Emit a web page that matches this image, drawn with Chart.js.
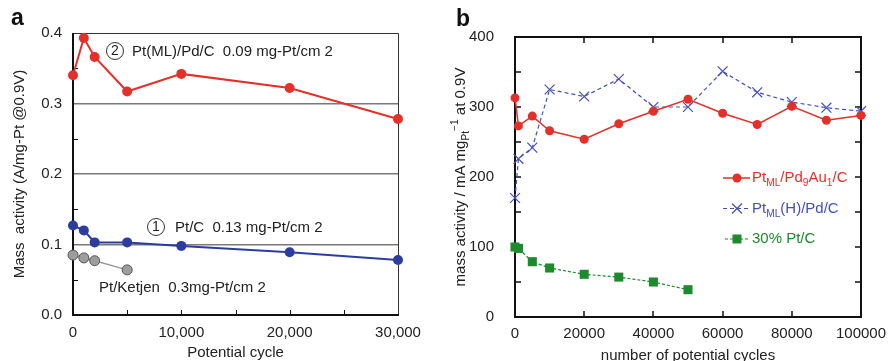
<!DOCTYPE html>
<html>
<head>
<meta charset="utf-8">
<script src="https://cdn.jsdelivr.net/npm/chart.js@4"></script>
<style>
  html, body { margin: 0; padding: 0; background: #fff; }
  #wrap { position: relative; width: 888px; height: 361px; }
  #panelA { position: absolute; left: 0; top: 0; }
  #panelB { position: absolute; left: 440px; top: 0; }
</style>
</head>
<body>
<div id="wrap">
  <canvas id="panelA" width="440" height="361"></canvas>
  <canvas id="panelB" width="448" height="361"></canvas>
</div>
<script>
// ---- data, panel a ----
const cyclesA = [0, 1000, 2000, 5000, 10000, 20000, 30000];
const ptMlPdC = [0.340, 0.393, 0.366, 0.317, 0.342, 0.322, 0.278];
const ptC = [0.127, 0.120, 0.103, 0.103, 0.098, 0.089, 0.078];
const cyclesKetjen = [0, 1000, 2000, 5000];
const ptKetjen = [0.085, 0.081, 0.077, 0.064];
const xTicksA = [0, 10000, 20000, 30000];
const yTicksA = [0.0, 0.1, 0.2, 0.3, 0.4];

// ---- data, panel b ----
const cyclesB = [0, 1000, 5000, 10000, 20000, 30000, 40000, 50000, 60000, 70000, 80000, 90000, 100000];
const ptMlPdAu = [313, 273, 287, 266, 254, 276, 294, 311, 291, 275, 301, 281, 288];
const ptMlHPd = [170, 226, 242, 325, 315, 340, 300, 300, 351, 321, 307, 299, 294];
const cyclesPtC = [0, 1000, 5000, 10000, 20000, 30000, 40000, 50000];
const ptC30 = [100, 98, 79, 70, 61, 57, 50, 39];
const xTicksB = [0, 20000, 40000, 60000, 80000, 100000];
const yTicksB = [0, 100, 200, 300, 400];

const FONT = '"Liberation Sans", Arial, sans-serif';
const TXT = '#222';

const pts = (xs, ys) => xs.map((x, i) => ({x: x, y: ys[i]}));

// texte avec indices / exposants
function richText(ctx, x, y, parts, size) {
    let cx = x;
    parts.forEach(p => {
        const s = p.sub || p.sup ? size * 0.68 : size;
        ctx.font = s + 'px ' + FONT;
        const dy = p.sub ? size * 0.35 : (p.sup ? -size * 0.42 : 0);
        ctx.fillText(p.t, cx, y + dy);
        cx += ctx.measureText(p.t).width;
    });
    return cx - x;
}
function richWidth(ctx, parts, size) {
    let w = 0;
    parts.forEach(p => {
        const s = p.sub || p.sup ? size * 0.68 : size;
        ctx.font = s + 'px ' + FONT;
        w += ctx.measureText(p.t).width;
    });
    return w;
}

// ===============================
// PANEL A
// ===============================
const framePluginA = {
    id: 'frameA',
    beforeDatasetsDraw(chart) {
        const {ctx, chartArea: ca, scales: {x, y}} = chart;
        ctx.save();
        ctx.strokeStyle = '#333';
        ctx.lineWidth = 1;
        ctx.beginPath();
        ctx.moveTo(ca.left, ca.top + 0.5); ctx.lineTo(ca.right + 0.5, ca.top + 0.5);
        ctx.lineTo(ca.right + 0.5, ca.bottom);
        ctx.stroke();
        ctx.strokeStyle = '#111';
        ctx.lineWidth = 2;
        ctx.beginPath();
        ctx.moveTo(ca.left, ca.top); ctx.lineTo(ca.left, ca.bottom); ctx.lineTo(ca.right + 1, ca.bottom);
        ctx.stroke();
        ctx.lineWidth = 1;
        ctx.beginPath();
        [0.05, 0.15, 0.25, 0.35].forEach(v => {
            const py = Math.round(y.getPixelForValue(v)) + 0.5;
            ctx.moveTo(ca.left, py); ctx.lineTo(ca.left + 5, py);
        });
        [5000, 10000, 15000, 20000, 25000].forEach(v => {
            const px = Math.round(x.getPixelForValue(v)) + 0.5;
            ctx.moveTo(px, ca.bottom); ctx.lineTo(px, ca.bottom - 5);
        });
        ctx.stroke();
        ctx.restore();
    },
    afterDraw(chart) {
        const ctx = chart.ctx;
        ctx.save();
        ctx.fillStyle = '#111';
        ctx.font = 'bold 23px ' + FONT;
        ctx.textBaseline = 'alphabetic';
        ctx.fillText('a', 11, 25);

        // annotations
        ctx.fillStyle = TXT;
        ctx.strokeStyle = '#333';
        ctx.lineWidth = 1;
        const circled = (cx, cy, n) => {
            ctx.beginPath(); ctx.arc(cx, cy, 8.5, 0, Math.PI * 2); ctx.stroke();
            ctx.font = '14px ' + FONT; ctx.textAlign = 'center'; ctx.textBaseline = 'middle';
            ctx.fillText(n, cx, cy + 0.5);
        };
        circled(115, 51, '2');
        circled(156, 227, '1');
        ctx.font = '15px ' + FONT; ctx.textAlign = 'left'; ctx.textBaseline = 'middle';
        ctx.fillText('Pt(ML)/Pd/C  0.09 mg-Pt/cm 2', 132, 52);
        ctx.fillText('Pt/C  0.13 mg-Pt/cm 2', 175, 228);
        ctx.fillText('Pt/Ketjen  0.3mg-Pt/cm 2', 99, 288);
        ctx.restore();
    }
};

new Chart(document.getElementById('panelA').getContext('2d'), {
    type: 'line',
    data: {
        datasets: [
            {
                label: 'Pt(ML)/Pd/C',
                data: pts(cyclesA, ptMlPdC),
                borderColor: '#e3302a', backgroundColor: '#e3302a',
                borderWidth: 2, pointRadius: 5, pointBorderWidth: 0, clip: false
            },
            {
                label: 'Pt/C',
                data: pts(cyclesA, ptC),
                borderColor: '#2c3d9f', backgroundColor: '#2c3d9f',
                borderWidth: 2, pointRadius: 5, pointBorderWidth: 0, clip: false
            },
            {
                label: 'Pt/Ketjen',
                data: pts(cyclesKetjen, ptKetjen),
                borderColor: '#9a9a9a', backgroundColor: '#9d9d9d',
                pointBorderColor: '#555', pointBorderWidth: 1,
                borderWidth: 1.5, pointRadius: 5, clip: false
            }
        ]
    },
    options: {
        responsive: false,
        animation: false,
        layout: {padding: {top: 33, right: 42, left: 0, bottom: 0}},
        plugins: {legend: {display: false}, tooltip: {enabled: false}},
        scales: {
            x: {
                type: 'linear', min: 0, max: 30000,
                afterBuildTicks: s => { s.ticks = xTicksA.map(v => ({value: v})); },
                afterFit: s => { s.height = 46; },
                grid: {display: false}, border: {display: false},
                ticks: {
                    color: TXT, font: {family: FONT, size: 15}, padding: 1, maxRotation: 0, autoSkip: false,
                    callback: v => v.toLocaleString('en-US')
                },
                title: {display: true, text: 'Potential cycle', color: TXT, font: {family: FONT, size: 15, lineHeight: 1.05}, padding: {top: 0, bottom: 0}}
            },
            y: {
                min: 0, max: 0.4,
                afterBuildTicks: s => { s.ticks = yTicksA.map(v => ({value: v})); },
                afterFit: s => { s.width = 73; },
                border: {display: false},
                grid: {
                    drawTicks: false, lineWidth: 1.5,
                    color: c => (c.tick && c.tick.value > 0.01 && c.tick.value < 0.39) ? '#7a7a7a' : 'rgba(0,0,0,0)'
                },
                ticks: {color: TXT, font: {family: FONT, size: 15}, padding: 11, callback: v => v.toFixed(1)},
                title: {display: true, text: 'Mass  activity (A/mg-Pt @0.9V)', color: TXT, font: {family: FONT, size: 15}, padding: {top: 11, bottom: 0}}
            }
        }
    },
    plugins: [framePluginA]
});

// ===============================
// PANEL B
// ===============================
const legendB = [
    {color: '#e3302a', dash: [], marker: 'circle',
     parts: [{t: 'Pt'}, {t: 'ML', sub: true}, {t: '/Pd'}, {t: '9', sub: true}, {t: 'Au'}, {t: '1', sub: true}, {t: '/C'}]},
    {color: '#4450b4', dash: [4, 3], marker: 'cross',
     parts: [{t: 'Pt'}, {t: 'ML', sub: true}, {t: '(H)/Pd/C'}]},
    {color: '#1d8a2e', dash: [3, 2], marker: 'square',
     parts: [{t: '30% Pt/C'}]}
];

const framePluginB = {
    id: 'frameB',
    beforeDatasetsDraw(chart) {
        const {ctx, chartArea: ca, scales: {x, y}} = chart;
        ctx.save();
        ctx.strokeStyle = '#111';
        ctx.lineWidth = 2;
        ctx.strokeRect(ca.left, ca.top, ca.right - ca.left, ca.bottom - ca.top);
        ctx.lineWidth = 1.5;
        ctx.beginPath();
        for (let v = 50; v < 400; v += 50) {
            const py = Math.round(y.getPixelForValue(v));
            ctx.moveTo(ca.left, py); ctx.lineTo(ca.left + 6, py);
            ctx.moveTo(ca.right, py); ctx.lineTo(ca.right - 6, py);
        }
        xTicksB.slice(1, -1).forEach(v => {
            const px = Math.round(x.getPixelForValue(v));
            ctx.moveTo(px, ca.bottom); ctx.lineTo(px, ca.bottom - 6);
            ctx.moveTo(px, ca.top); ctx.lineTo(px, ca.top + 6);
        });
        ctx.stroke();
        ctx.restore();
    },
    afterDraw(chart) {
        const {ctx, chartArea: ca} = chart;
        ctx.save();
        ctx.fillStyle = '#111';
        ctx.font = 'bold 23px ' + FONT;
        ctx.textBaseline = 'alphabetic';
        ctx.fillText('b', 16, 26);

        // titre de l'axe y (indice + exposant)
        const yTitle = [{t: 'mass activity / mA mg'}, {t: 'Pt', sub: true}, {t: '\u22121', sup: true}, {t: ' at 0.9V'}];
        ctx.fillStyle = TXT;
        ctx.textBaseline = 'middle';
        ctx.translate(21, (ca.top + ca.bottom) / 2);
        ctx.rotate(-Math.PI / 2);
        const w = richWidth(ctx, yTitle, 15);
        richText(ctx, -w / 2, 0, yTitle, 15);
        ctx.restore();

        // légende
        ctx.save();
        ctx.textBaseline = 'middle';
        legendB.forEach((item, i) => {
            const ly = 178 + i * 30.5;
            ctx.strokeStyle = item.color;
            ctx.fillStyle = item.color;
            ctx.lineWidth = item.marker === 'circle' ? 1.5 : 1.2;
            ctx.setLineDash(item.dash);
            ctx.beginPath(); ctx.moveTo(i === 2 ? 285 : 283, ly); ctx.lineTo(310, ly); ctx.stroke();
            ctx.setLineDash([]);
            const mx = 297;
            if (item.marker === 'circle') {
                ctx.beginPath(); ctx.arc(mx, ly, 4.5, 0, Math.PI * 2); ctx.fill();
            } else if (item.marker === 'cross') {
                ctx.lineWidth = 1.2;
                ctx.beginPath();
                ctx.moveTo(mx - 5, ly - 5); ctx.lineTo(mx + 5, ly + 5);
                ctx.moveTo(mx - 5, ly + 5); ctx.lineTo(mx + 5, ly - 5);
                ctx.stroke();
            } else {
                ctx.fillRect(mx - 4.5, ly - 4.5, 9, 9);
            }
            richText(ctx, 312, ly, item.parts, 15);
        });
        ctx.restore();
    }
};

new Chart(document.getElementById('panelB').getContext('2d'), {
    type: 'line',
    data: {
        datasets: [
            {
                label: 'PtML/Pd9Au1/C',
                data: pts(cyclesB, ptMlPdAu),
                borderColor: '#e3302a', backgroundColor: '#e3302a',
                borderWidth: 1.5, pointRadius: 4.5, pointBorderWidth: 0, clip: false
            },
            {
                label: 'PtML(H)/Pd/C',
                data: pts(cyclesB, ptMlHPd),
                borderColor: '#4450b4', backgroundColor: '#4450b4',
                borderWidth: 1.2, borderDash: [4, 3],
                pointStyle: 'crossRot', pointRadius: 7, pointBorderWidth: 1.2, clip: false
            },
            {
                label: '30% Pt/C',
                data: pts(cyclesPtC, ptC30),
                borderColor: '#1d8a2e', backgroundColor: '#1d8a2e',
                borderWidth: 1.2, borderDash: [3, 2],
                pointStyle: 'rect', pointRadius: 6.4, pointBorderWidth: 0, clip: false
            }
        ]
    },
    options: {
        responsive: false,
        animation: false,
        layout: {padding: {top: 37, right: 27, left: 0, bottom: 0}},
        plugins: {legend: {display: false}, tooltip: {enabled: false}},
        scales: {
            x: {
                type: 'linear', min: 0, max: 100000,
                afterBuildTicks: s => { s.ticks = xTicksB.map(v => ({value: v})); },
                afterFit: s => { s.height = 44; },
                grid: {display: false}, border: {display: false},
                ticks: {color: TXT, font: {family: FONT, size: 15}, padding: 0, maxRotation: 0, autoSkip: false,
                        callback: v => String(v)},
                title: {display: true, text: 'number of potential cycles', color: TXT,
                        font: {family: FONT, size: 15, lineHeight: 0.7}, padding: {top: 0, bottom: 0}}
            },
            y: {
                min: 0, max: 400,
                afterBuildTicks: s => { s.ticks = yTicksB.map(v => ({value: v})); },
                afterFit: s => { s.width = 75; },
                grid: {display: false}, border: {display: false},
                ticks: {color: TXT, font: {family: FONT, size: 15}, padding: 13}
            }
        }
    },
    plugins: [framePluginB]
});
</script>
</body>
</html>
